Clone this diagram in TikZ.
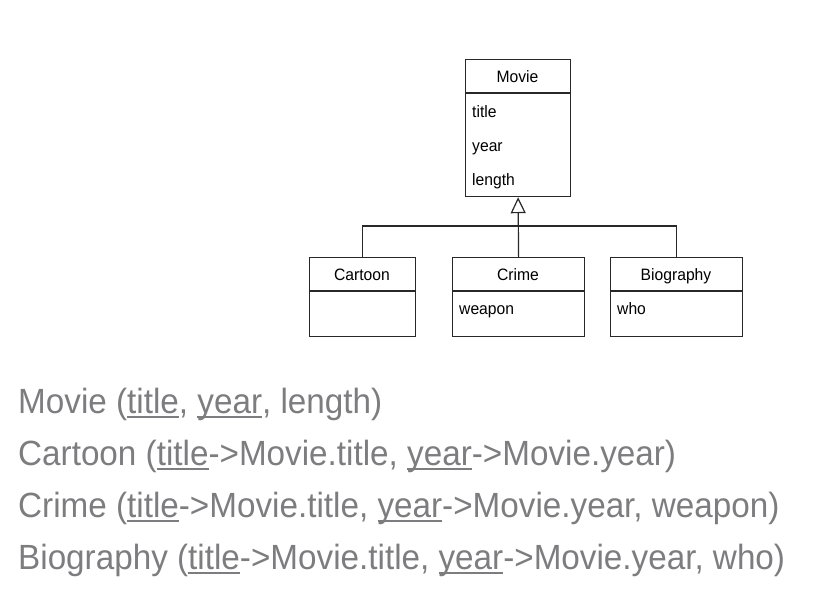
\documentclass[tikz,border=0pt]{standalone}
\usepackage{fontspec}
\setmainfont{Liberation Sans}[FakeStretch=0.95]
\usetikzlibrary{arrows.meta}
\definecolor{txtgray}{RGB}{125,125,128}
\definecolor{umlline}{RGB}{40,40,40}
\newcommand\ulw[1]{\setbox0=\hbox{#1}\rlap{\vrule height -3pt depth 5pt width \wd0}\box0}
\tikzset{
  classbox/.style={draw=umlline, line width=1.2pt, inner sep=0pt, anchor=north west},
  umltext/.style={font=\fontsize{16.5}{20}\selectfont, text=black, inner sep=0pt},
  conn/.style={draw=umlline, line width=1.2pt},
  relline/.style={font=\fontsize{35}{40}\selectfont, text=txtgray, inner sep=0pt, anchor=base west}
}
\begin{document}
\begin{tikzpicture}[x=1pt,y=-1pt]
\useasboundingbox (0,0) rectangle (821,613);
% Movie
\node[classbox, minimum width=105pt, minimum height=137pt] (movie) at (465,59) {};
\draw[conn] ([yshift=-34pt]movie.north west) -- ([yshift=-34pt]movie.north east);
\node[umltext, anchor=base] (movieT) at (517.5,82) {Movie};
\node[umltext, anchor=base west] (mtitle) at (472,117) {title};
\node[umltext, anchor=base west] (myear) at (472,151) {year};
\node[umltext, anchor=base west] (mlength) at (472,185) {length};
% Cartoon
\node[classbox, minimum width=106pt, minimum height=79pt] (cartoon) at (309,257) {};
\draw[conn] ([yshift=-34pt]cartoon.north west) -- ([yshift=-34pt]cartoon.north east);
\node[umltext, anchor=base] (cartoonT) at (362,280) {Cartoon};
% Crime
\node[classbox, minimum width=132pt, minimum height=79pt] (crime) at (452,257) {};
\draw[conn] ([yshift=-34pt]crime.north west) -- ([yshift=-34pt]crime.north east);
\node[umltext, anchor=base] (crimeT) at (518,280) {Crime};
\node[umltext, anchor=base west] (cweapon) at (459,314) {weapon};
% Biography
\node[classbox, minimum width=132pt, minimum height=79pt] (bio) at (610,257) {};
\draw[conn] ([yshift=-34pt]bio.north west) -- ([yshift=-34pt]bio.north east);
\node[umltext, anchor=base] (bioT) at (676,280) {Biography};
\node[umltext, anchor=base west] (bwho) at (617,314) {who};
% Generalization
\coordinate (hub) at (518,226);
\draw[conn, -{Triangle[open, length=16pt, width=15pt, line width=1.2pt]}] (crime.north) -- (movie.south);
\draw[conn] (cartoon.north) |- (hub) -| (bio.north);
% Relations
\node[relline] (r1) at (18,413) {Movie (\ulw{title}, \ulw{year}, length)};
\node[relline] (r2) at (18,465) {Cartoon (\ulw{title}->Movie.title, \ulw{year}->Movie.year)};
\node[relline] (r3) at (18,517) {Crime (\ulw{title}->Movie.title, \ulw{year}->Movie.year, weapon)};
\node[relline] (r4) at (18,569) {Biography (\ulw{title}->Movie.title, \ulw{year}->Movie.year, who)};
\end{tikzpicture}
\end{document}
